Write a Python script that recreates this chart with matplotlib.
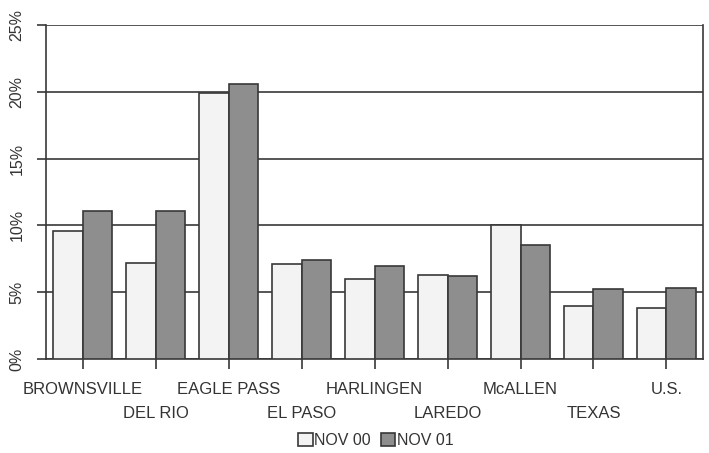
import numpy as np
import matplotlib
matplotlib.use("Agg")
import matplotlib.pyplot as plt
from matplotlib.ticker import FuncFormatter

plt.rcParams['font.family'] = ['Liberation Sans', 'DejaVu Sans']

cities = ["BROWNSVILLE", "DEL RIO", "EAGLE PASS", "EL PASO", "HARLINGEN",
          "LAREDO", "McALLEN", "TEXAS", "U.S."]
nov00 = [9.6, 7.2, 19.9, 7.1, 6.0, 6.3, 10.0, 4.0, 3.85]
nov01 = [11.1, 11.1, 20.6, 7.4, 6.95, 6.2, 8.5, 5.25, 5.35]
series_names = ["NOV 00", "NOV 01"]

edge = "#383838"
txt = "#333333"
fig = plt.figure(figsize=(7.09, 4.53), dpi=100)
ax = fig.add_axes([0.065, 0.2075, 0.9265, 0.7373])

x = np.arange(len(cities))
w = 0.4
ax.bar(x - w / 2, nov00, w, color="#f3f3f3", edgecolor=edge, linewidth=1.2,
       label=series_names[0], zorder=3)
ax.bar(x + w / 2, nov01, w, color="#8e8e8e", edgecolor=edge, linewidth=1.2,
       label=series_names[1], zorder=3)

ax.set_xlim(-0.5, len(cities) - 0.5)
ax.set_ylim(0, 25)
ax.set_yticks(range(0, 26, 5))
ax.yaxis.set_major_formatter(FuncFormatter(lambda v, p: f"{int(v)}%"))
ax.grid(axis="y", color=edge, linewidth=1.2, zorder=1)

# staggered category labels: even ones as major ticks, odd ones as minor ticks lower down
ax.set_xticks(x[::2])
ax.set_xticklabels(cities[::2], fontsize=12, color=txt)
ax.set_xticks(x[1::2], minor=True)
ax.set_xticklabels(cities[1::2], minor=True, fontsize=12, color=txt)

for lab in ax.get_yticklabels():
    lab.set_rotation(90)
    lab.set_va("center")
    lab.set_fontsize(11.5)
    lab.set_color(txt)

ax.tick_params(axis="x", which="major", length=7.5, width=1.2, color=edge, pad=9)
ax.tick_params(axis="x", which="minor", length=7.5, width=1.2, color=edge, pad=26)
ax.tick_params(axis="y", length=6.5, width=1.2, color=edge, pad=9)

ax.spines["top"].set_visible(False)
for s in ["left", "right", "bottom"]:
    ax.spines[s].set_color(edge)
    ax.spines[s].set_linewidth(1.2)

leg = fig.legend(loc="center", bbox_to_anchor=(0.53, 0.028), ncol=2, frameon=False,
                 fontsize=11.5, handlelength=0.9, handleheight=0.9, handletextpad=0.1,
                 columnspacing=0.6)
for t in leg.get_texts():
    t.set_color(txt)

fig.savefig("out.png", dpi=100, facecolor="white")
